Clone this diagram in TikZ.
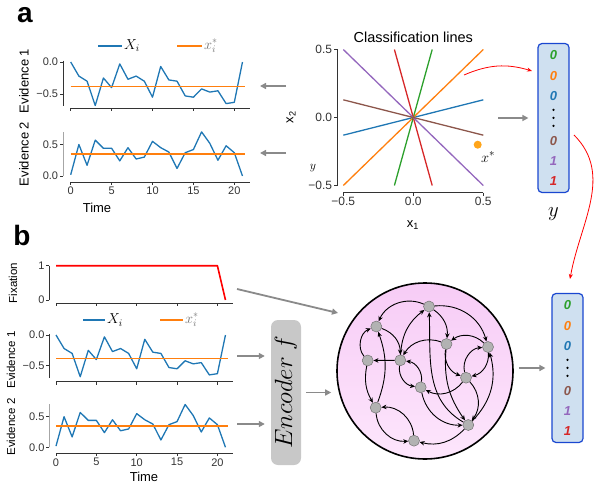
\documentclass[tikz,border=0pt]{standalone}
\usepackage{fontspec}
\setmainfont{Liberation Sans}
\setsansfont{Liberation Sans}
\usetikzlibrary{arrows.meta,positioning}

\definecolor{tabblue}{HTML}{1F77B4}
\definecolor{taborange}{HTML}{FF7F0E}
\definecolor{tabgreen}{HTML}{2CA02C}
\definecolor{tabred}{HTML}{D62728}
\definecolor{tabpurple}{HTML}{9467BD}
\definecolor{tabbrown}{HTML}{8C564B}
\definecolor{vecblue}{HTML}{1A47D0}
\definecolor{vecfill}{HTML}{CFE0F0}
\definecolor{arrowgray}{HTML}{8A8A8A}
\definecolor{encgray}{HTML}{C8C8C8}
\definecolor{pinkA}{HTML}{F7CCF6}
\definecolor{pinkB}{HTML}{FDE6FC}
\definecolor{spinegray}{HTML}{333333}
\definecolor{dotorange}{HTML}{FFA51A}

\tikzset{
  series/.style={tabblue, line width=1.3pt, line join=round},
  meanline/.style={taborange, line width=1.4pt},
  fixline/.style={red, line width=1.6pt, line join=round},
  spine/.style={spinegray, line width=0.8pt},
  tick/.style={font=\fontsize{11}{11}\selectfont, inner sep=1.5pt},
  bigtick/.style={font=\fontsize{12}{12}\selectfont, inner sep=1.5pt},
  axlabel/.style={font=\fontsize{13}{13}\selectfont, inner sep=0pt},
  smalllabel/.style={font=\fontsize{11.5}{11.5}\selectfont, inner sep=0pt},
  legtext/.style={font=\fontsize{14}{14}\selectfont, inner sep=1pt},
  panellabel/.style={font=\fontsize{28}{28}\selectfont\bfseries, inner sep=0pt},
  clsline/.style={line width=1.3pt},
  grayarrow/.style={arrowgray, line width=1.8pt, -{Triangle[length=6pt,width=6pt]}},
  redarrow/.style={red, line width=0.8pt, -{Stealth[length=5pt,width=4pt]}},
  vecbox/.style={draw=vecblue, line width=1.2pt, fill=vecfill, rounded corners=4pt,
    minimum width=31pt, minimum height=149pt, inner sep=0pt},
  bit/.style={font=\fontsize{13}{13}\selectfont\bfseries\itshape, inner sep=0pt},
  vdot/.style={circle, fill=black, inner sep=0pt, minimum size=2.6pt},
  encoder/.style={fill=encgray, rounded corners=7pt, minimum width=145pt,
    minimum height=30pt, inner sep=0pt, font=\fontsize{23}{23}\selectfont},
  netcircle/.style={circle, draw=black, line width=1.6pt, minimum size=176pt,
    top color=pinkA, bottom color=pinkB},
  unit/.style={circle, fill=black!30, draw=black!55, line width=0.5pt,
    minimum size=11pt, inner sep=0pt},
  link/.style={line width=0.9pt, -{Stealth[length=5pt,width=4.5pt]}},
}

\newcommand{\evidenceone}{%
  \draw[series] plot coordinates {(0,0) (1,-0.22) (2,-0.3) (3,-0.68) (4,-0.25)
    (5,-0.4) (6,-0.03) (7,-0.27) (8,-0.22) (9,-0.3) (10,-0.55) (11,-0.07)
    (12,-0.28) (13,-0.3) (14,-0.53) (15,-0.55) (16,-0.42) (17,-0.47) (18,-0.45)
    (19,-0.65) (20,-0.63) (21,0)};
  \draw[meanline] (0,-0.38) -- (21.3,-0.38);}
\newcommand{\evidencetwo}{%
  \draw[series] plot coordinates {(0,0.02) (1,0.5) (2,0.17) (3,0.57) (4,0.44)
    (5,0.44) (6,0.24) (7,0.45) (8,0.27) (9,0.3) (10,0.55) (11,0.45) (12,0.38)
    (13,0.12) (14,0.37) (15,0.42) (16,0.7) (17,0.52) (18,0.25) (19,0.48)
    (20,0.37) (21,0)};
  \draw[meanline] (0,0.35) -- (21.3,0.35);}

\begin{document}
\begin{tikzpicture}[x=1pt, y=-1pt]
\useasboundingbox (0,0) rectangle (602,484);

% ---------------- panel a ----------------
\node[panellabel] (pa) at (25,15) {a};

% legend
\draw[series] (98,46) -- (122,46);
\node[legtext, anchor=west] (legxa) at (123,46) {$X_i$};
\draw[meanline] (177,46) -- (202,46);
\node[legtext, anchor=west, text=black!55] (legma) at (203,46) {$x_i^*$};

% evidence 1
\begin{scope}[shift={(70.7pt,-62pt)}, x=8.18pt, y=64pt]
  \evidenceone
  \draw[spine] (-0.94,0.02) -- (-0.94,-0.68);
  \foreach \v/\l [count=\k] in {0/0.0,-0.5/−0.5}
    \draw[spine] (-0.94,\v) -- ++(-3pt,0) node[tick, left] (tyaa\k) {\l};
  \draw[spine] (0,-0.72) -- (21.9,-0.72);
  \foreach \t in {0,5,...,20}
    \draw[spine] (\t,-0.72) -- ++(0,-3pt);
\end{scope}
\node[axlabel, rotate=90] (laba1) at (24,81) {Evidence 1};

% evidence 2
\begin{scope}[shift={(70.7pt,-176pt)}, x=8.18pt, y=63pt]
  \evidencetwo
  \draw[spine, black!35] (-0.94,0) -- (-0.94,0.7);
  \foreach \v/\l [count=\k] in {0/0.0,0.5/0.5}
    \draw[spine] (-0.94,\v) -- ++(-3pt,0) node[tick, left] (tyab\k) {\l};
  \draw[spine] (0,-0.1) -- (21.9,-0.1);
  \foreach \t in {0,5,...,20}
    \draw[spine] (\t,-0.1) -- ++(0,-3pt) node[tick, below] (txa\t) {\t};
\end{scope}
\node[axlabel, rotate=90] (laba2) at (24,154) {Evidence 2};
\node[axlabel] (timea) at (97,208) {Time};

% classification lines
\begin{scope}[shift={(413.3pt,-117.5pt)}, x=140pt, y=136pt]
  \draw[clsline, tabblue] (-0.5,-0.13) -- (0.5,0.13);
  \draw[clsline, taborange] (-0.5,-0.5) -- (0.5,0.5);
  \draw[clsline, tabgreen] (-0.135,-0.5) -- (0.135,0.5);
  \draw[clsline, tabred] (-0.135,0.5) -- (0.135,-0.5);
  \draw[clsline, tabpurple] (-0.5,0.5) -- (0.5,-0.5);
  \draw[clsline, tabbrown] (-0.5,0.13) -- (0.5,-0.13);
  \draw[spine] (-0.545,0.5) -- (-0.545,-0.5);
  \foreach \v/\l [count=\k] in {0.5/0.5,0/0.0,-0.5/−0.5}
    \draw[spine] (-0.545,\v) -- ++(-3pt,0) node[bigtick, left] (tyc\k) {\l};
  \draw[spine] (-0.5,-0.553) -- (0.5,-0.553);
  \foreach \v/\l [count=\k] in {-0.5/−0.5,0/0.0,0.5/0.5}
    \draw[spine] (\v,-0.553) -- ++(0,-3pt) node[bigtick, below] (txc\k) {\l};
  \node[font=\fontsize{14.5}{14.5}\selectfont] (clstitle) at (0,0.59) {Classification lines};
  \node[circle, fill=dotorange, inner sep=0pt, minimum size=8pt] (xstar) at (0.46,-0.2) {};
  \node[font=\fontsize{15}{15}\selectfont, inner sep=0pt] (xstarlab) at (0.535,-0.29) {$x^*$};
\end{scope}
\node[axlabel] (labx1) at (413,225) {x\textsubscript{1}};
\node[axlabel, rotate=90] (labx2) at (291,117) {x\textsubscript{2}};
\node[font=\fontsize{13}{13}\selectfont, inner sep=0pt] (stray) at (313,168) {$y$};

% label vector y
\node[vecbox] (ybox) at (553.5,118) {};
\foreach \c/\d/\o [count=\k] in {tabgreen/0/12.5, taborange/0/33, tabblue/0/53,
    tabbrown/0/98, tabpurple/1/118, tabred/1/138}
  \node[bit, text=\c] (ya\k) at ([yshift=-\o pt]ybox.north) {\d};
\foreach \o [count=\k] in {67,75,83}
  \node[vdot] (ydot\k) at ([yshift=-\o pt]ybox.north) {};
\node[font=\fontsize{20}{20}\selectfont, inner sep=0pt] (ylab) at (553.5,214) {$y$};

% arrows of panel a
\coordinate (clsin1) at (286,86);
\coordinate (clsin2) at (286,153);
\coordinate (evin1) at (260,86);
\coordinate (evin2) at (260,153);
\draw[grayarrow] (clsin1) -- (evin1);
\draw[grayarrow] (clsin2) -- (evin2);
\coordinate (clsout) at (498,118);
\draw[grayarrow, shorten >=9pt] (clsout) -- (clsout -| ybox.west);
\coordinate (redA) at (464,75);
\coordinate (redB) at (532,71);
\draw[redarrow] (redA) to[bend left=20] (redB);

% ---------------- panel b ----------------
\node[panellabel] (pb) at (22,235) {b};

% fixation
\begin{scope}[shift={(56pt,-300pt)}, x=8.07pt, y=34.3pt]
  \draw[fixline] (0,1) -- (20,1) -- (21,0);
  \draw[spine] (-0.83,0) -- (-0.83,1);
  \foreach \v [count=\k] in {0,1}
    \draw[spine] (-0.83,\v) -- ++(-3pt,0) node[tick, left] (tyf\k) {\v};
  \draw[spine] (0,-0.09) -- (21.9,-0.09);
  \foreach \t in {0,5,...,20}
    \draw[spine] (\t,-0.09) -- ++(0,-3pt);
\end{scope}
\node[smalllabel, rotate=90] (labf) at (13,283) {Fixation};

% legend
\draw[series] (83,320) -- (105,320);
\node[legtext, anchor=west] (legxb) at (106,320) {$X_i$};
\draw[meanline] (160,320) -- (183,320);
\node[legtext, anchor=west, text=black!55] (legmb) at (184,320) {$x_i^*$};

% evidence 1
\begin{scope}[shift={(56pt,-335pt)}, x=8.07pt, y=61.4pt]
  \evidenceone
  \draw[spine] (-0.83,0.02) -- (-0.83,-0.7);
  \foreach \v/\l [count=\k] in {0/0.0,-0.5/−0.5}
    \draw[spine] (-0.83,\v) -- ++(-3pt,0) node[tick, left] (tyba\k) {\l};
  \draw[spine] (0,-0.76) -- (21.9,-0.76);
  \foreach \t in {0,5,...,20}
    \draw[spine] (\t,-0.76) -- ++(0,-3pt);
\end{scope}
\node[smalllabel, rotate=90] (labb1) at (11,360) {Evidence 1};

% evidence 2
\begin{scope}[shift={(56pt,-447.3pt)}, x=8.07pt, y=61.2pt]
  \evidencetwo
  \draw[spine, black!35] (-0.83,0) -- (-0.83,0.7);
  \foreach \v/\l [count=\k] in {0/0.0,0.5/0.5}
    \draw[spine] (-0.83,\v) -- ++(-3pt,0) node[tick, left] (tybb\k) {\l};
  \draw[spine] (0,-0.1) -- (21.9,-0.1);
  \foreach \t in {0,5,...,20}
    \draw[spine] (\t,-0.1) -- ++(0,-3pt) node[tick, below] (txb\t) {\t};
\end{scope}
\node[smalllabel, rotate=90] (labb2) at (11,427) {Evidence 2};
\node[axlabel] (timeb) at (144,476.5) {Time};

% encoder
\node[encoder, rotate=90] (enc) at (286,392.5) {$Encoder\ f$};
\coordinate (evout1) at (237,356);
\coordinate (evout2) at (237,424);
\draw[grayarrow, shorten >=6pt] (evout1) -- (evout1 -| enc.north);
\draw[grayarrow, shorten >=6pt] (evout2) -- (evout2 -| enc.north);

% recurrent network
\node[netcircle] (net) at (425,371) {};
\node[unit] (n1) at (429,306.5) {};
\node[unit] (n2) at (376.3,326.5) {};
\node[unit] (n3) at (446.5,344) {};
\node[unit] (n4) at (488,347) {};
\node[unit] (n5) at (367.7,360.5) {};
\node[unit] (n6) at (400.3,360.3) {};
\node[unit] (n7) at (466,377.7) {};
\node[unit] (n8) at (420.7,387.3) {};
\node[unit] (n9) at (375.7,407.7) {};
\node[unit] (n10) at (468.3,425) {};
\node[unit] (n11) at (414,440.7) {};
\draw[link] (n1) to[bend right=45] (n2);
\draw[link] (n1) to[bend left=40] (n4);
\draw[link] (n1) to[bend left=30] (n3);
\draw[link] (n6) to[bend left=25] (n1);
\draw[link] (n10) to[out=150, in=-88] (n1);
\draw[link] (n2) to[bend left=35] (n6);
\draw[link] (n5) to[bend left=55] (n2);
\draw[link] (n9) to[bend right=20] (n2);
\draw[link] (n6) -- (n5);
\draw[link] (n5) to[bend right=20] (n9);
\draw[link] (n3) to[bend right=40] (n6);
\draw[link] (n4) to[bend right=40] (n3);
\draw[link] (n3) to[bend right=40] (n7);
\draw[link] (n7) to[bend left=50] (n4);
\draw[link] (n4) to[bend left=40] (n7);
\draw[link] (n6) to[bend right=45] (n8);
\draw[link] (n8) to[bend right=45] (n6);
\draw[link] (n7) to[bend left=40] (n8);
\draw[link] (n3) to[bend right=20] (n10);
\draw[link] (n7) to[bend left=40] (n10);
\draw[link] (n10) to[bend right=30] (n4);
\draw[link] (n8) to[bend right=40] (n10);
\draw[link] (n10) to[bend left=30] (n11);
\draw[link] (n9) to[bend right=45] (n11);
\draw[link] (n11) to[bend right=45] (n9);

% arrows into and out of the network
\coordinate (fixout) at (237,289);
\coordinate (netin) at (338,313);
\draw[grayarrow] (fixout) -- (netin);
\draw[grayarrow, shorten <=5pt, shorten >=5pt] (enc.south) -- (enc.south -| net.west);

% output vector
\node[vecbox] (yvec) at (567.5,368) {};
\foreach \c/\d/\o [count=\k] in {tabgreen/0/12.5, taborange/0/33, tabblue/0/53,
    tabbrown/0/98, tabpurple/1/118, tabred/1/138}
  \node[bit, text=\c] (yb\k) at ([yshift=-\o pt]yvec.north) {\d};
\foreach \o [count=\k] in {67,75,83}
  \node[vdot] (yvdot\k) at ([yshift=-\o pt]yvec.north) {};
\draw[grayarrow, shorten <=5pt, shorten >=6pt] ([yshift=3pt]net.east) -- ([yshift=3pt]net.east -| yvec.west);

\coordinate (redC) at (574,135);
\coordinate (redD) at (570,279);
\draw[redarrow] (redC) to[out=-45, in=80] (redD);
\end{tikzpicture}
\end{document}
